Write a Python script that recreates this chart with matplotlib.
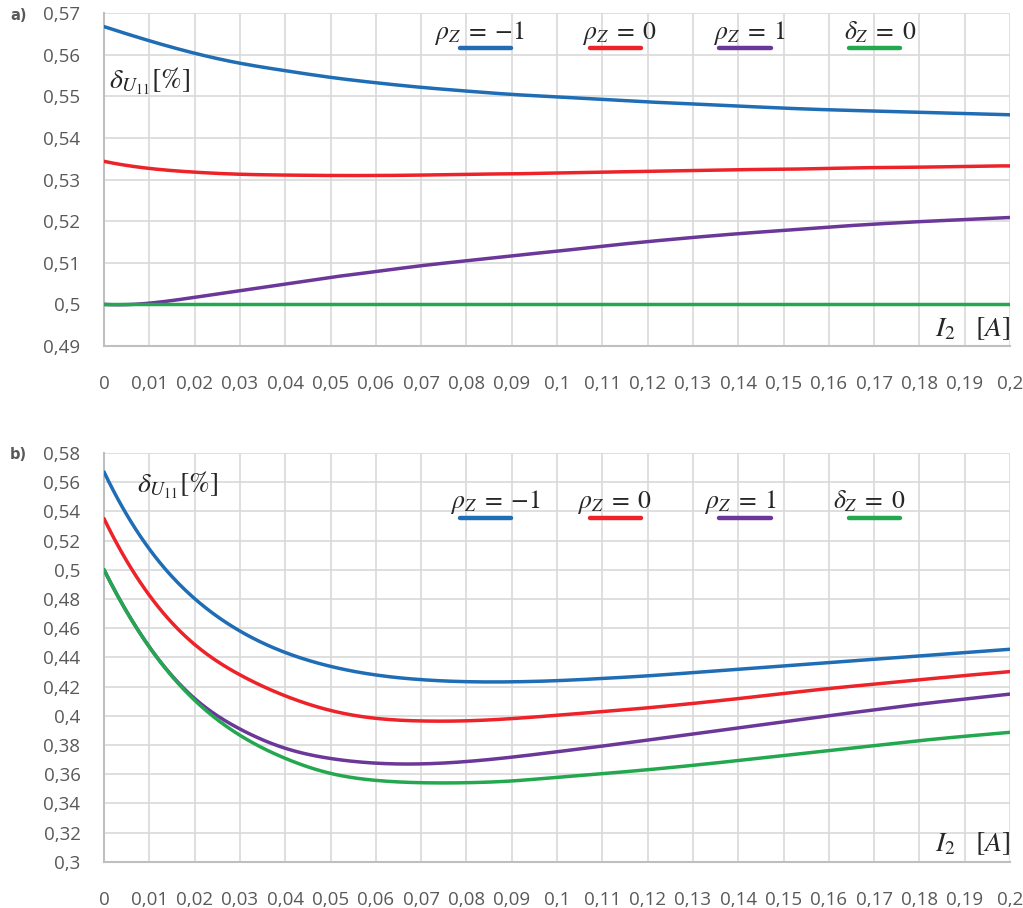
import numpy as np
import matplotlib
matplotlib.use('Agg')
import matplotlib.pyplot as plt

plt.rcParams['mathtext.fontset'] = 'stix'

# x values (I2, A)
current = [0, 0.01, 0.02, 0.03, 0.04, 0.05, 0.06, 0.07, 0.08, 0.09, 0.1,
           0.11, 0.12, 0.13, 0.14, 0.15, 0.16, 0.17, 0.18, 0.19, 0.2]
x_ticklabels = ['0', '0,01', '0,02', '0,03', '0,04', '0,05', '0,06', '0,07', '0,08', '0,09', '0,1',
                '0,11', '0,12', '0,13', '0,14', '0,15', '0,16', '0,17', '0,18', '0,19', '0,2']

# panel a)
a_rho_m1 = [0.5668, 0.5634, 0.5604, 0.5580, 0.5562, 0.5546, 0.5533, 0.5522, 0.5513, 0.5505, 0.5499,
            0.5493, 0.5487, 0.5482, 0.5477, 0.5472, 0.5468, 0.5465, 0.5462, 0.5459, 0.5456]
a_rho_0 = [0.5344, 0.5327, 0.5318, 0.5313, 0.5311, 0.5310, 0.5310, 0.5311, 0.5313, 0.5314, 0.5316,
           0.5318, 0.5320, 0.5322, 0.5324, 0.5325, 0.5327, 0.5329, 0.5330, 0.5332, 0.5333]
a_rho_1 = [0.5000, 0.5003, 0.5017, 0.5033, 0.5049, 0.5065, 0.5079, 0.5093, 0.5105, 0.5117, 0.5128,
           0.5140, 0.5151, 0.5161, 0.5170, 0.5178, 0.5186, 0.5193, 0.5199, 0.5204, 0.5209]
a_delta_0 = [0.5] * 21

# panel b)
b_rho_m1 = [0.567, 0.5142, 0.4802, 0.4580, 0.4433, 0.4338, 0.4279, 0.4247, 0.4233, 0.4232, 0.4240,
            0.4255, 0.4273, 0.4295, 0.4318, 0.4341, 0.4364, 0.4386, 0.4409, 0.4432, 0.4455]
b_rho_0 = [0.535, 0.4825, 0.4488, 0.4280, 0.4136, 0.4036, 0.3982, 0.3964, 0.3965, 0.3980, 0.4003,
           0.4028, 0.4054, 0.4084, 0.4117, 0.4152, 0.4186, 0.4216, 0.4246, 0.4275, 0.4302]
b_rho_1 = [0.5, 0.4472, 0.4118, 0.3909, 0.3777, 0.3707, 0.3675, 0.3670, 0.3686, 0.3716, 0.3753,
           0.3792, 0.3833, 0.3875, 0.3917, 0.3959, 0.4000, 0.4040, 0.4079, 0.4114, 0.4148]
b_delta_0 = [0.5, 0.4470, 0.4106, 0.3866, 0.3708, 0.3605, 0.3557, 0.3541, 0.3541, 0.3553, 0.3578,
             0.3603, 0.3630, 0.3660, 0.3693, 0.3727, 0.3761, 0.3795, 0.3829, 0.3859, 0.3886]

colors = ['#1F6DB5', '#EE2229', '#6B3798', '#23A84F']
legend_labels = [r'$\rho_Z\;=\;{-}1$', r'$\rho_Z\;=\;0$', r'$\rho_Z\;=\;1$', r'$\delta_Z\;=\;0$']


def smooth(x, y, n=20):
    # cubic spline (not-a-knot) through the points, equal steps in x
    x = np.asarray(x, float)
    y = np.asarray(y, float)
    m = len(x)
    h = x[1] - x[0]
    A = np.zeros((m, m))
    b = np.zeros(m)
    A[0, :3] = [1, -2, 1]
    A[-1, -3:] = [1, -2, 1]
    for i in range(1, m - 1):
        A[i, i - 1:i + 2] = [1, 4, 1]
        b[i] = 6 / h ** 2 * (y[i - 1] - 2 * y[i] + y[i + 1])
    M = np.linalg.solve(A, b)
    xs, ys = [], []
    for i in range(m - 1):
        t = np.linspace(x[i], x[i + 1], n, endpoint=False)
        a1 = x[i + 1] - t
        a2 = t - x[i]
        s = (M[i] * a1 ** 3 + M[i + 1] * a2 ** 3) / (6 * h) \
            + (y[i] / h - M[i] * h / 6) * a1 + (y[i + 1] / h - M[i + 1] * h / 6) * a2
        xs.extend(t)
        ys.extend(s)
    xs.append(x[-1])
    ys.append(y[-1])
    return xs, ys


fig = plt.figure(figsize=(10.23, 9.08), dpi=100)
ax1 = fig.add_axes([104 / 1023, (908 - 346) / 908, 906 / 1023, 332.7 / 908])
ax2 = fig.add_axes([104 / 1023, (908 - 861.7) / 908, 906 / 1023, 408.8 / 908])

panels = [
    (ax1, [a_rho_m1, a_rho_0, a_rho_1, a_delta_0], (0.49, 0.57), np.arange(0.49, 0.5701, 0.01),
     ['0,49', '0,5', '0,51', '0,52', '0,53', '0,54', '0,55', '0,56', '0,57'],
     0.923, 0.897, [0.364, 0.528, 0.672, 0.817], (0.0055, 0.773), 'a)'),
    (ax2, [b_rho_m1, b_rho_0, b_rho_1, b_delta_0], (0.3, 0.58), np.arange(0.3, 0.5801, 0.02),
     ['0,3', '0,32', '0,34', '0,36', '0,38', '0,4', '0,42', '0,44', '0,46', '0,48', '0,5',
      '0,52', '0,54', '0,56', '0,58'],
     0.865, 0.84, [0.382, 0.522, 0.662, 0.805], (0.036, 0.902), 'b)'),
]
line_spans = [(0.393, 0.449), (0.536, 0.593), (0.679, 0.736), (0.822, 0.879)]

for ax, series, ylim, yticks, ylabels, text_y, line_y, text_x, lab_pos, tag in panels:
    for vals, c in zip(series, colors):
        sx, sy = smooth(current, vals)
        ax.plot(sx, sy, color=c, lw=2.5, solid_capstyle='round', zorder=3)
    ax.set_xlim(0, 0.2)
    ax.set_ylim(*ylim)
    ax.set_xticks(current)
    ax.set_xticklabels(x_ticklabels)
    ax.set_yticks(yticks)
    ax.set_yticklabels(ylabels)
    ax.grid(True, color='#D9D9D9', lw=1.2)
    ax.set_axisbelow(True)
    for s in ['top', 'right']:
        ax.spines[s].set_visible(False)
    for s in ['left', 'bottom']:
        ax.spines[s].set_color('#BFBFBF')
        ax.spines[s].set_linewidth(1.5)
    ax.tick_params(length=0, labelsize=13.5, labelcolor='#595959', pad=17)
    ax.tick_params(axis='x', pad=21)
    for lbl in ax.get_xticklabels() + ax.get_yticklabels():
        lbl.set_family('Open Sans')

    # legend drawn as text with a coloured bar under it
    for lab, c, tx, (l0, l1) in zip(legend_labels, colors, text_x, line_spans):
        ax.text(tx, text_y, lab, transform=ax.transAxes, fontsize=18.5, color='#262626',
                ha='left', va='baseline')
        ax.plot([l0, l1], [line_y, line_y], transform=ax.transAxes, color=c, lw=3.2,
                solid_capstyle='round', clip_on=False, zorder=4)

    ax.text(lab_pos[0], lab_pos[1], r'$\delta_{U_{11}}[\%]$', transform=ax.transAxes,
            fontsize=20, color='#262626', ha='left', va='baseline')
    ax.text(1.0, 0.012, r'$I_2\ \ \ [A]$', transform=ax.transAxes, fontsize=20,
            color='#262626', ha='right', va='bottom')
    bb = ax.get_position()
    fig.text(10 / 1023, bb.y1 - 2 / 908, tag, fontsize=10.5, fontweight='bold',
             color='#595959', ha='left', va='center')

fig.savefig('out.png', dpi=100, facecolor='white')
